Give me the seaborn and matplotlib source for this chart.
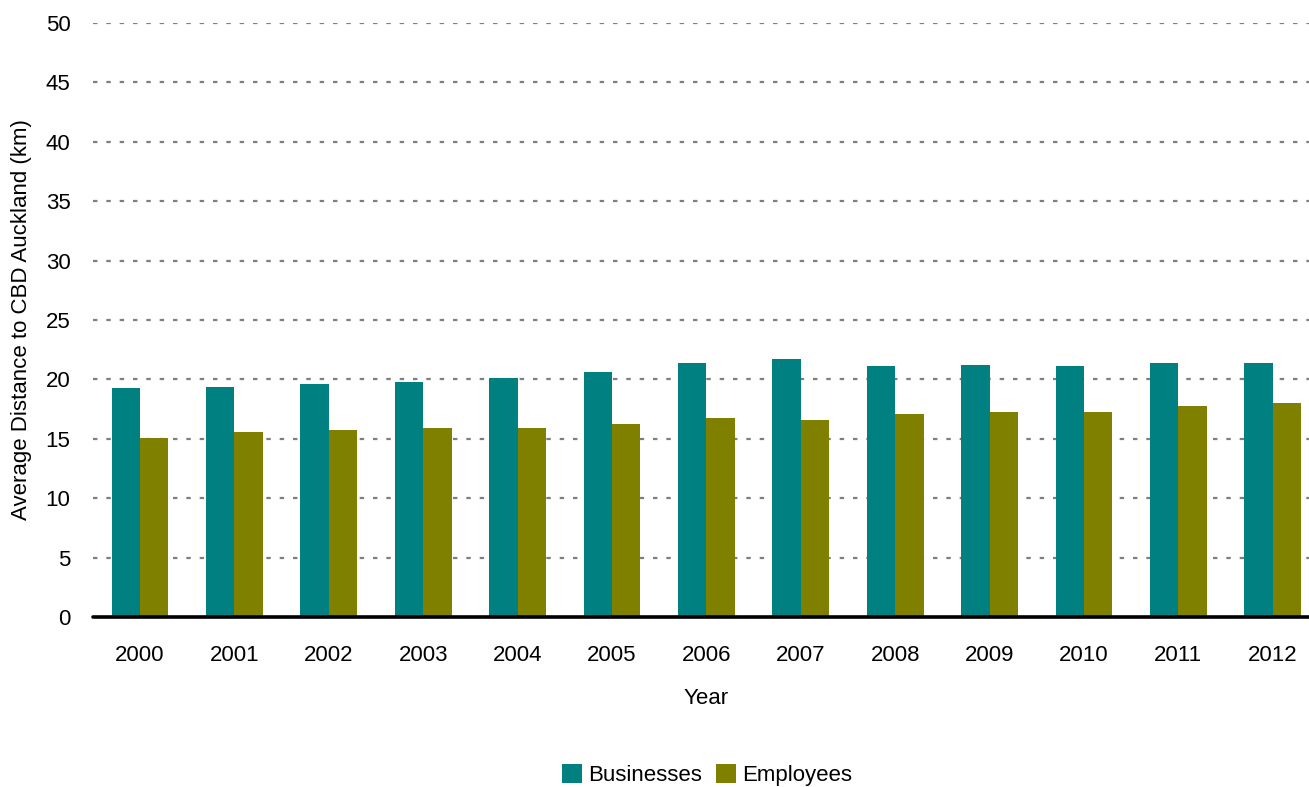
import matplotlib
matplotlib.use("Agg")
import matplotlib.pyplot as plt
import seaborn as sns
import pandas as pd

years = ["2000", "2001", "2002", "2003", "2004", "2005", "2006",
         "2007", "2008", "2009", "2010", "2011", "2012"]
businesses = [19.25, 19.4, 19.6, 19.75, 20.1, 20.6, 21.4, 21.75, 21.1, 21.25, 21.1, 21.4, 21.4]
employees = [15.1, 15.6, 15.75, 15.9, 15.9, 16.25, 16.75, 16.6, 17.1, 17.25, 17.25, 17.75, 18.05]
series_names = ["Businesses", "Employees"]
colors = ["#008080", "#808000"]

df = pd.DataFrame({
    "Year": years * 2,
    "Value": businesses + employees,
    "Series": [series_names[0]] * len(years) + [series_names[1]] * len(years),
})

sns.set_theme(style="white")
plt.rcParams['font.family'] = ['Liberation Sans', 'DejaVu Sans']
plt.rcParams['text.color'] = 'black'

fig = plt.figure(figsize=(13.09, 7.87), dpi=100)
ax = fig.add_axes([92.8 / 1309, (787 - 617) / 787, (1320 - 92.8) / 1309, (617 - 23) / 787])

sns.barplot(data=df, x="Year", y="Value", hue="Series", palette=colors,
            width=0.6, saturation=1, ax=ax, legend=True, linewidth=0, edgecolor="none")

ax.set_ylim(0, 50)
ax.set_yticks(range(0, 51, 5))
ax.set_xlim(-0.5, len(years) - 0.5)

for v in range(5, 51, 5):
    ax.axhline(v, color="#7f7f7f", linewidth=1.6, dashes=(2, 4), zorder=0)
ax.axhline(0, color="black", linewidth=2.6, zorder=5, clip_on=False)

for s in ax.spines.values():
    s.set_visible(False)

ax.tick_params(axis="both", length=0, labelsize=16, colors="black")
ax.tick_params(axis="y", pad=16)
ax.tick_params(axis="x", pad=20)
ax.set_xlabel("Year", fontsize=16, labelpad=16, color="black")
ax.set_ylabel("Average Distance to CBD Auckland (km)", fontsize=16, labelpad=10, color="black")

ax.get_legend().remove()
handles, labels = ax.get_legend_handles_labels()
fig.legend(handles, labels, loc="center", bbox_to_anchor=(707 / 1309, 1 - 775 / 787),
           ncol=2, frameon=False, fontsize=16, handlelength=0.9, handleheight=0.9,
           handletextpad=0.3, columnspacing=0.6, labelcolor="black")

fig.savefig("out.png", dpi=100)
